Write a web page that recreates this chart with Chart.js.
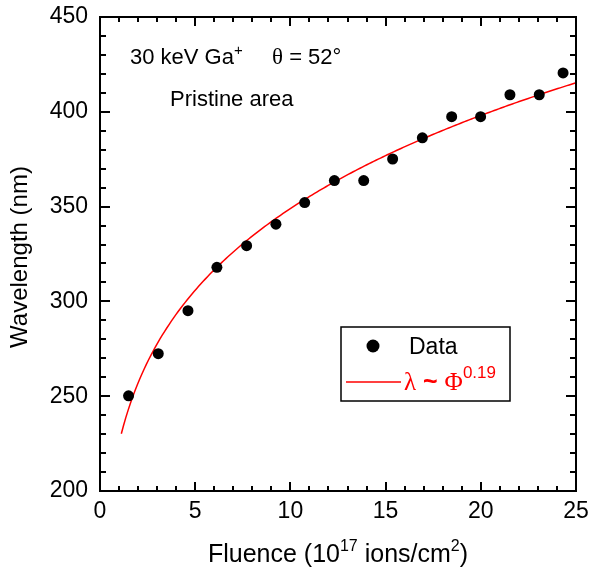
<!DOCTYPE html>
<html>
<head>
<meta charset="utf-8">
<script src="https://cdn.jsdelivr.net/npm/chart.js@4.4.1/dist/chart.umd.min.js"></script>
<style>
  html, body { margin: 0; padding: 0; background: #fff; }
  #wrap { width: 589px; height: 571px; position: relative; }
</style>
</head>
<body>
<div id="wrap"><canvas id="c" width="589" height="571"></canvas></div>
<script>
// Measured ripple wavelength vs. ion fluence
const fluence    = [1.50, 3.06, 4.62, 6.14, 7.70, 9.24, 10.75, 12.31, 13.85, 15.37, 16.93, 18.47, 19.99, 21.53, 23.07, 24.32];
const wavelength = [250.2, 272.4, 295.1, 318.0, 329.4, 340.7, 352.1, 363.7, 363.7, 375.1, 386.3, 397.4, 397.4, 409.0, 409.0, 420.5];

// Axis ticks
const xTicks = [0, 5, 10, 15, 20, 25];
const yTicks = [200, 250, 300, 350, 400, 450];
const xMinorPerMajor = 5;
const yMinorPerMajor = 5;

// Power-law fit  lambda = A * Phi^0.19
const fitExponent = 0.19;
const fitPrefactor = 225.3;
const fitRange = [1.12, 25];

const fitPoints = [];
for (let i = 0; i <= 200; i++) {
  const phi = fitRange[0] + (fitRange[1] - fitRange[0]) * i / 200;
  fitPoints.push({ x: phi, y: fitPrefactor * Math.pow(phi, fitExponent) });
}

const SANS = "'Liberation Sans', Arial, Helvetica, sans-serif";
const SERIF = "'Liberation Serif', 'Times New Roman', serif";

function drawRich(ctx, parts, x, y, align) {
  let w = 0;
  parts.forEach(p => { ctx.font = p.font; p.w = ctx.measureText(p.text).width; w += p.w; });
  let cx = align === 'center' ? x - w / 2 : x;
  parts.forEach(p => {
    ctx.font = p.font;
    ctx.fillStyle = p.color || '#000';
    ctx.fillText(p.text, cx, y + (p.dy || 0));
    cx += p.w;
  });
}

function noScalePadding(s) {
  s.paddingTop = 0; s.paddingBottom = 0; s.paddingLeft = 0; s.paddingRight = 0;
}

const framePlugin = {
  id: 'frameAndText',
  afterDatasetsDraw(chart) {
    const { ctx, chartArea: a, scales: { x, y } } = chart;
    ctx.save();
    ctx.strokeStyle = '#000';
    ctx.lineWidth = 2;
    ctx.lineCap = 'butt';

    // inward ticks on all four sides
    const xStep = xTicks[1] - xTicks[0];
    const yStep = yTicks[1] - yTicks[0];
    ctx.beginPath();
    const nx = (xTicks[xTicks.length - 1] - xTicks[0]) / xStep * xMinorPerMajor;
    for (let i = 0; i <= nx; i++) {
      const v = xTicks[0] + i * xStep / xMinorPerMajor;
      const px = Math.round(x.getPixelForValue(v));
      const len = i % xMinorPerMajor === 0 ? 9 : 5;
      ctx.moveTo(px, a.bottom); ctx.lineTo(px, a.bottom - len);
      ctx.moveTo(px, a.top); ctx.lineTo(px, a.top + len);
    }
    const ny = (yTicks[yTicks.length - 1] - yTicks[0]) / yStep * yMinorPerMajor;
    for (let i = 0; i <= ny; i++) {
      const v = yTicks[0] + i * yStep / yMinorPerMajor;
      const py = Math.round(y.getPixelForValue(v));
      const len = i % yMinorPerMajor === 0 ? 10 : 6;
      ctx.moveTo(a.left, py); ctx.lineTo(a.left + len, py);
      ctx.moveTo(a.right, py); ctx.lineTo(a.right - len, py);
    }
    ctx.stroke();
    ctx.strokeRect(a.left, a.top, a.right - a.left, a.bottom - a.top);

    // annotations
    ctx.textBaseline = 'alphabetic';
    drawRich(ctx, [
      { text: '30 keV Ga', font: '22px ' + SANS },
      { text: '+', font: '15px ' + SANS, dy: -9 }
    ], 130, 64, 'left');
    drawRich(ctx, [
      { text: '\u03B8', font: '23px ' + SERIF },
      { text: ' = 52\u00B0', font: '22px ' + SANS }
    ], 272, 64, 'left');
    drawRich(ctx, [{ text: 'Pristine area', font: '22px ' + SANS }], 170, 106, 'left');

    // legend
    const ds0 = chart.data.datasets[0], ds1 = chart.data.datasets[1];
    ctx.fillStyle = '#fff';
    ctx.fillRect(341, 327, 169, 74);
    ctx.lineWidth = 1.5;
    ctx.strokeStyle = '#000';
    ctx.strokeRect(341, 327, 169, 74);
    ctx.fillStyle = ds0.pointBackgroundColor;
    ctx.beginPath(); ctx.arc(373, 346, 6.5, 0, Math.PI * 2); ctx.fill();
    drawRich(ctx, [{ text: ds0.label, font: '23px ' + SANS }], 409, 354, 'left');
    ctx.strokeStyle = ds1.borderColor;
    ctx.lineWidth = ds1.borderWidth;
    ctx.beginPath(); ctx.moveTo(346, 382); ctx.lineTo(401, 382); ctx.stroke();
    const red = ds1.borderColor;
    drawRich(ctx, [
      { text: '\u03BB', font: '25px ' + SERIF, color: red },
      { text: ' ~ ', font: 'bold 25px ' + SANS, color: red },
      { text: '\u03A6', font: '25px ' + SERIF, color: red },
      { text: String(fitExponent), font: '17px ' + SANS, color: red, dy: -12 }
    ], 404, 390, 'left');

    // axis titles
    drawRich(ctx, [
      { text: 'Fluence (10', font: '25px ' + SANS },
      { text: '17', font: '16px ' + SANS, dy: -11 },
      { text: ' ions/cm', font: '25px ' + SANS },
      { text: '2', font: '16px ' + SANS, dy: -11 },
      { text: ')', font: '25px ' + SANS }
    ], (a.left + a.right) / 2, 562, 'center');

    ctx.translate(27, 257);
    ctx.rotate(-Math.PI / 2);
    drawRich(ctx, [{ text: 'Wavelength (nm)', font: '24px ' + SANS }], 0, 0, 'center');
    ctx.restore();
  }
};

new Chart(document.getElementById('c'), {
  type: 'scatter',
  data: {
    datasets: [
      {
        label: 'Data',
        data: fluence.map((f, i) => ({ x: f, y: wavelength[i] })),
        showLine: false,
        pointRadius: 5.5,
        pointHoverRadius: 5.5,
        pointBackgroundColor: '#000',
        pointBorderColor: '#000',
        pointBorderWidth: 0
      },
      {
        label: 'fit',
        data: fitPoints,
        showLine: true,
        pointRadius: 0,
        borderColor: '#ff0000',
        borderWidth: 1.5,
        tension: 0
      }
    ]
  },
  options: {
    responsive: false,
    animation: false,
    devicePixelRatio: 1,
    layout: { padding: { top: 17, right: 13, left: 0, bottom: 0 } },
    plugins: { legend: { display: false }, tooltip: { enabled: false } },
    scales: {
      x: {
        type: 'linear',
        min: xTicks[0], max: xTicks[xTicks.length - 1],
        afterFit(s) { s.height = 80; noScalePadding(s); },
        afterBuildTicks(s) { s.ticks = xTicks.map(v => ({ value: v })); },
        grid: { display: false, drawTicks: false },
        border: { display: false },
        ticks: { color: '#000', padding: 7, font: { size: 23, family: SANS }, maxRotation: 0 }
      },
      y: {
        type: 'linear',
        min: yTicks[0], max: yTicks[yTicks.length - 1],
        afterFit(s) { s.width = 100; noScalePadding(s); },
        afterBuildTicks(s) { s.ticks = yTicks.map(v => ({ value: v })); },
        grid: { display: false, drawTicks: false },
        border: { display: false },
        ticks: { color: '#000', padding: 12, font: { size: 23, family: SANS } }
      }
    }
  },
  plugins: [framePlugin]
});
</script>
</body>
</html>
